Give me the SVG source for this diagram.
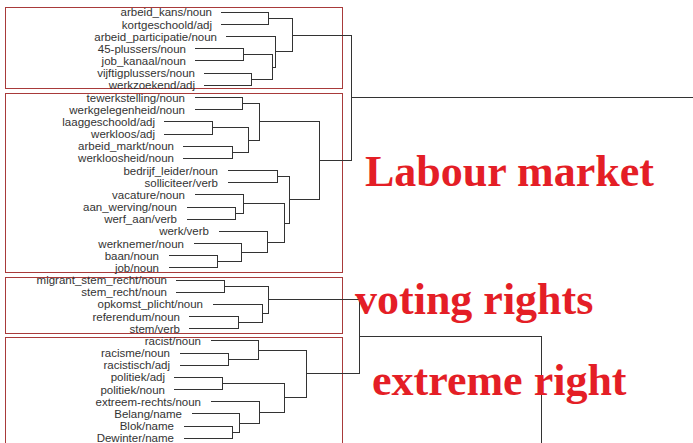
<svg xmlns="http://www.w3.org/2000/svg" width="693" height="443" viewBox="0 0 693 443">
<style>
.lbl{font-family:"Liberation Sans",Arial,sans-serif;font-size:11.5px;fill:#333;text-anchor:end}
.box{fill:none;stroke:#a83a3a;stroke-width:1}
.ann{font-family:"Liberation Serif","Times New Roman",serif;font-size:44px;font-weight:bold;fill:#e41e26}
.c path{fill:none;stroke:#333;stroke-width:1}
</style>
<rect width="693" height="443" fill="#fff"/>
<g id="cluster-labour-1"><rect class="box" x="5.5" y="7.5" width="337" height="81"/></g>
<g id="cluster-labour-2"><rect class="box" x="5.5" y="93.5" width="337" height="179"/></g>
<g id="cluster-voting"><rect class="box" x="5.5" y="277.5" width="337" height="56"/></g>
<g id="cluster-extreme"><rect class="box" x="5.5" y="337.5" width="337" height="115"/></g>

<g class="c" id="connectors" shape-rendering="crispEdges">
<path d="M221 12.3H268V24.47H221"/>
<path d="M195 48.81H243V60.98H195"/>
<path d="M204 73.15H251V85.32H204"/>
<path d="M243 54.9H272V79.24H251"/>
<path d="M226 36.64H275.5V67.07H272"/>
<path d="M268 18.39H292V51.86H275.5"/>
<path d="M195 97.49H242V109.66H195"/>
<path d="M164 121.83H212V134H164"/>
<path d="M183 146.17H232V158.34H183"/>
<path d="M212 127.92H248V152.26H232"/>
<path d="M242 103.58H259V140.09H248"/>
<path d="M228 170.51H277V182.68H228"/>
<path d="M187 207.02H235V219.19H187"/>
<path d="M195 194.85H243V213.1H235"/>
<path d="M169 255.7H217V267.87H169"/>
<path d="M194 243.53H241V261.79H217"/>
<path d="M219 231.36H267V252.66H241"/>
<path d="M243 203.98H284V242.01H267"/>
<path d="M277 176.6H289V223H284"/>
<path d="M259 121.84H319V199.8H289"/>
<path d="M292 35.12H351V160.82H319"/>
<path d="M351 97.97H693"/>
<path d="M176 280.04H224V292.21H176"/>
<path d="M189 316.55H238V328.72H189"/>
<path d="M213 304.38H262V322.64H238"/>
<path d="M224 286.13H268V313.51H262"/>
<path d="M180 353.06H228V365.23H180"/>
<path d="M211 340.89H258V359.15H228"/>
<path d="M174 377.4H222V389.57H174"/>
<path d="M184 426.08H232V438.25H184"/>
<path d="M192 413.91H239V432.17H232"/>
<path d="M211 401.74H259V423.04H239"/>
<path d="M222 383.49H284V412.39H259"/>
<path d="M258 350.02H306V397.94H284"/>
<path d="M268 299.82H359.5V373.98H306"/>
<path d="M359.5 336.9H541V450"/>
</g>

<g id="leaf-arbeid_kans"><text class="lbl" x="212" y="16.3">arbeid_kans/noun</text></g>
<g id="leaf-kortgeschoold"><text class="lbl" x="212" y="28.5">kortgeschoold/adj</text></g>
<g id="leaf-arbeid_participatie"><text class="lbl" x="217" y="40.6">arbeid_participatie/noun</text></g>
<g id="leaf-45-plussers"><text class="lbl" x="186" y="52.8">45-plussers/noun</text></g>
<g id="leaf-job_kanaal"><text class="lbl" x="186" y="65">job_kanaal/noun</text></g>
<g id="leaf-vijftigplussers"><text class="lbl" x="195" y="77.2">vijftigplussers/noun</text></g>
<g id="leaf-werkzoekend"><text class="lbl" x="195" y="89.3">werkzoekend/adj</text></g>
<g id="leaf-tewerkstelling"><text class="lbl" x="185" y="101.5">tewerkstelling/noun</text></g>
<g id="leaf-werkgelegenheid"><text class="lbl" x="185" y="113.7">werkgelegenheid/noun</text></g>
<g id="leaf-laaggeschoold"><text class="lbl" x="155" y="125.8">laaggeschoold/adj</text></g>
<g id="leaf-werkloos"><text class="lbl" x="155" y="138">werkloos/adj</text></g>
<g id="leaf-arbeid_markt"><text class="lbl" x="174" y="150.2">arbeid_markt/noun</text></g>
<g id="leaf-werkloosheid"><text class="lbl" x="174" y="162.3">werkloosheid/noun</text></g>
<g id="leaf-bedrijf_leider"><text class="lbl" x="218" y="174.5">bedrijf_leider/noun</text></g>
<g id="leaf-solliciteer"><text class="lbl" x="218" y="186.7">solliciteer/verb</text></g>
<g id="leaf-vacature"><text class="lbl" x="185" y="198.9">vacature/noun</text></g>
<g id="leaf-aan_werving"><text class="lbl" x="177" y="211">aan_werving/noun</text></g>
<g id="leaf-werf_aan"><text class="lbl" x="177" y="223.2">werf_aan/verb</text></g>
<g id="leaf-werk"><text class="lbl" x="209" y="235.4">werk/verb</text></g>
<g id="leaf-werknemer"><text class="lbl" x="184" y="247.5">werknemer/noun</text></g>
<g id="leaf-baan"><text class="lbl" x="159" y="259.7">baan/noun</text></g>
<g id="leaf-job"><text class="lbl" x="159" y="271.9">job/noun</text></g>
<g id="leaf-migrant_stem_recht"><text class="lbl" x="167" y="284">migrant_stem_recht/noun</text></g>
<g id="leaf-stem_recht"><text class="lbl" x="167" y="296.2">stem_recht/noun</text></g>
<g id="leaf-opkomst_plicht"><text class="lbl" x="203" y="308.4">opkomst_plicht/noun</text></g>
<g id="leaf-referendum"><text class="lbl" x="180" y="320.5">referendum/noun</text></g>
<g id="leaf-stem"><text class="lbl" x="180" y="332.7">stem/verb</text></g>
<g id="leaf-racist"><text class="lbl" x="201" y="344.9">racist/noun</text></g>
<g id="leaf-racisme"><text class="lbl" x="170" y="357.1">racisme/noun</text></g>
<g id="leaf-racistisch"><text class="lbl" x="170" y="369.2">racistisch/adj</text></g>
<g id="leaf-politiek-adj"><text class="lbl" x="165" y="381.4">politiek/adj</text></g>
<g id="leaf-politiek-noun"><text class="lbl" x="165" y="393.6">politiek/noun</text></g>
<g id="leaf-extreem-rechts"><text class="lbl" x="201" y="405.7">extreem-rechts/noun</text></g>
<g id="leaf-Belang"><text class="lbl" x="182" y="417.9">Belang/name</text></g>
<g id="leaf-Blok"><text class="lbl" x="174" y="430.1">Blok/name</text></g>
<g id="leaf-Dewinter"><text class="lbl" x="174" y="442.2">Dewinter/name</text></g>

<g id="annotation-labour"><text class="ann" x="365" y="186">Labour market</text></g>
<g id="annotation-voting"><text class="ann" x="355" y="314">voting rights</text></g>
<g id="annotation-extreme"><text class="ann" x="372" y="395">extreme right</text></g>
</svg>
